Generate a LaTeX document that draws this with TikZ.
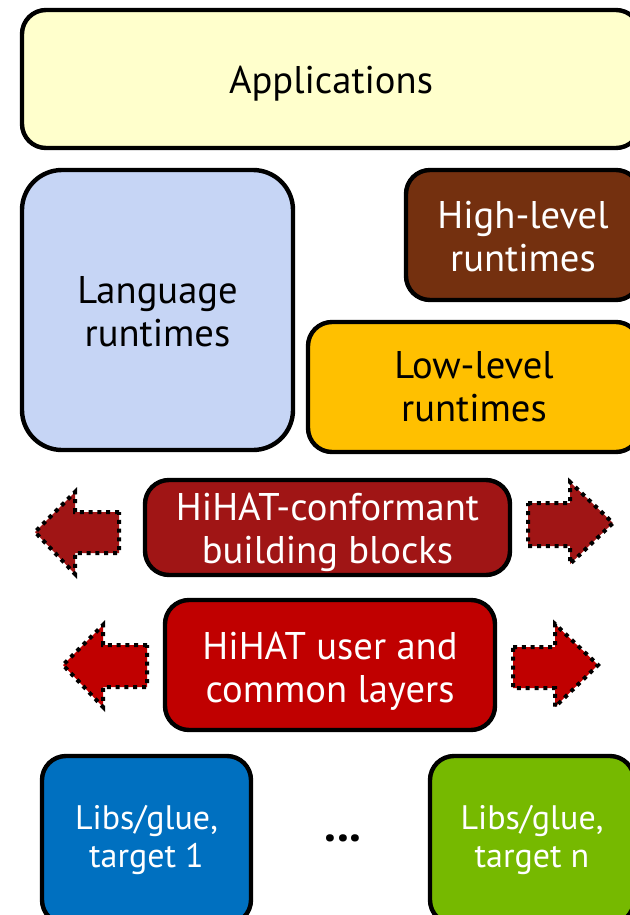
\documentclass[tikz,border=0pt]{standalone}
\usepackage{fontspec}
\setmainfont{PT Sans}
\usetikzlibrary{positioning}

\definecolor{appyellow}{HTML}{FFFFCC}
\definecolor{langblue}{HTML}{C6D5F5}
\definecolor{highbrown}{HTML}{74300F}
\definecolor{lowamber}{HTML}{FFC000}
\definecolor{blockred}{HTML}{A01515}
\definecolor{layerred}{HTML}{C00000}
\definecolor{tgtblue}{HTML}{0070C0}
\definecolor{tgtgreen}{HTML}{76B900}

\newcommand{\topdrop}[1]{\rule{0pt}{#1}}

\tikzset{
  layerbox/.style={draw=black, line width=2.2pt, rounded corners=12pt,
    align=center, inner sep=0pt, font=\fontsize{19.3}{21.5}\selectfont},
  tgtbox/.style={layerbox, font=\fontsize{17}{19}\selectfont},
  sidearrow/.style={draw=black, line width=2pt, dash pattern=on 2pt off 2.4pt}
}

\begin{document}
\begin{tikzpicture}[x=0.5pt,y=-0.5pt]
\useasboundingbox (0,0) rectangle (630,915);
\clip (0,0) rectangle (630,915);

% top
\node[layerbox, fill=appyellow, minimum width=309pt, minimum height=69pt] (apps) at (331,79) {\topdrop{18pt}Applications};

% runtimes
\node[layerbox, fill=langblue, rounded corners=20pt, minimum width=135.5pt, minimum height=140pt] (langrt) at (157.5,310) {\topdrop{15.5pt}Language\\runtimes};
\node[layerbox, fill=highbrown, text=white, minimum width=117pt, minimum height=65pt] (highrt) at (523,235) {\topdrop{15.5pt}High-level\\runtimes};
\node[layerbox, fill=lowamber, minimum width=166pt, minimum height=65pt] (lowrt) at (474,387) {Low-level\\runtimes};

% hihat
\node[layerbox, fill=blockred, text=white, minimum width=182.5pt, minimum height=47.5pt] (blocks) at (327.5,527.5) {\topdrop{18.5pt}HiHAT-conformant\\building blocks};
\node[layerbox, fill=layerred, text=white, minimum width=165pt, minimum height=65pt] (layers) at (330,665) {\topdrop{19.5pt}HiHAT user and\\common layers};

\draw[sidearrow, fill=blockred] (119,512) -- (75,512) -- (75,492) -- (35,532) -- (75,574) -- (75,553) -- (119,553) -- cycle;
\draw[sidearrow, fill=blockred] (528,503) -- (570,503) -- (570,482) -- (613,523) -- (570,564) -- (570,546) -- (528,546) -- cycle;
\draw[sidearrow, fill=layerred] (147,645) -- (103,645) -- (103,625) -- (63,665) -- (103,707) -- (103,687) -- (147,687) -- cycle;
\draw[sidearrow, fill=layerred] (513,647) -- (555,647) -- (555,624) -- (598,665) -- (555,707) -- (555,688) -- (513,688) -- cycle;

% targets
\node[tgtbox, fill=tgtblue, text=white, minimum width=104.5pt, minimum height=84pt] (tgtone) at (146.5,840) {Libs/glue,\\target 1};
\node[tgtbox, fill=tgtgreen, text=white, minimum width=102pt, minimum height=84pt] (tgtn) at (532,840) {Libs/glue,\\target n};
\node[font=\fontsize{24}{24}\selectfont\bfseries] (dots) at (343,838) {...};
\end{tikzpicture}
\end{document}
